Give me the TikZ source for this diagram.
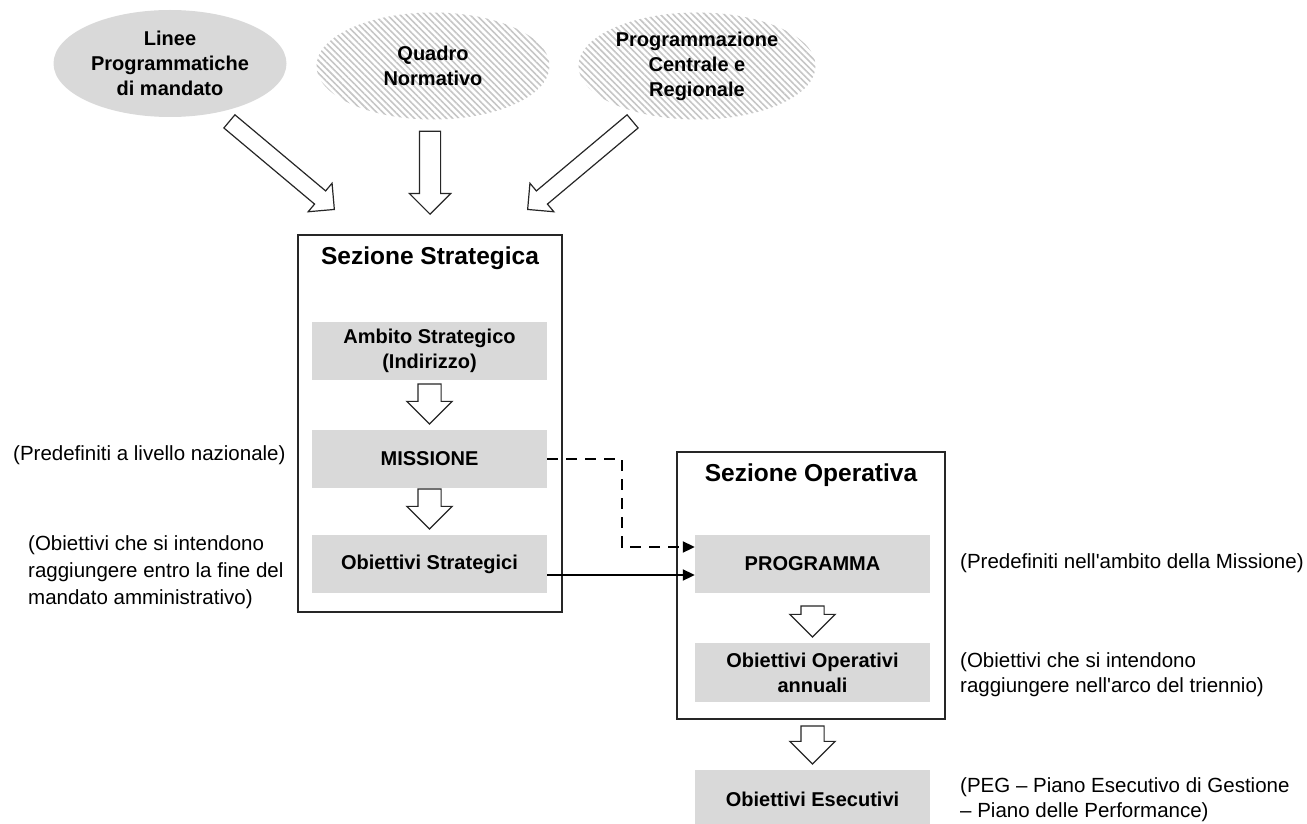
\documentclass[tikz,border=0pt]{standalone}
\usepackage{fontspec}
\setmainfont{Liberation Sans}
\usetikzlibrary{shapes.geometric,shapes.arrows,arrows.meta,patterns.meta}
\definecolor{boxgray}{HTML}{D9D9D9}
\definecolor{hatchgray}{HTML}{C6C6C6}
\newcommand{\txtsize}{\fontsize{20}{25}\selectfont}
\newcommand{\notesize}{\fontsize{20.5}{25}\selectfont}
\newcommand{\titlesize}{\fontsize{24.5}{29}\selectfont}
\begin{document}
\begin{tikzpicture}[x=1pt,y=-1pt,
  source/.style={ellipse, minimum width=233pt, minimum height=107pt, inner sep=0pt, align=center, font=\bfseries\txtsize},
  hatched/.style={source, pattern={Lines[angle=-45,distance=4.5pt,line width=1.6pt]}, pattern color=hatchgray},
  bigarrow/.style={single arrow, draw=black!85, fill=white, line width=1.2pt, single arrow head extend=10pt, inner xsep=0pt, inner ysep=10pt, minimum width=0pt},
  section/.style={draw=black!85, line width=1.3pt},
  graybox/.style={fill=boxgray, minimum width=235pt, minimum height=58pt, inner sep=0pt, align=center, font=\bfseries\txtsize},
  note/.style={align=left, anchor=west, font=\notesize, inner sep=0pt},
  link/.style={line width=2pt, -{Triangle[length=12pt,width=11pt]}}]
\useasboundingbox (0,0) rectangle (1307,824);
% sources
\node[source, fill=boxgray] (linee) at (170,63.5) {Linee\\Programmatiche\\di mandato};
\node[hatched] (quadro) at (433,66) {Quadro\\Normativo};
\node[hatched, minimum width=237pt] (progr) at (697,66) {Programmazione\\Centrale e\\Regionale};
\node[bigarrow, minimum height=137pt, rotate=-40, anchor=tip, inner ysep=8pt, single arrow head extend=10pt] (inL) at (335,210) {};
\node[bigarrow, minimum height=83pt, rotate=-90, anchor=tip] (inC) at (430,215) {};
\node[bigarrow, minimum height=137pt, rotate=-140, anchor=tip, inner ysep=8pt, single arrow head extend=10pt] (inR) at (527,210) {};
% strategic section
\node[section, minimum width=264pt, minimum height=377pt] (strat) at (430,423.5) {};
\node[font=\bfseries\titlesize] (stratT) at (430,258) {Sezione Strategica};
\node[graybox] (ambito) at (429.5,351) {Ambito Strategico\\(Indirizzo)};
\node[graybox] (missione) at (429.5,459) {MISSIONE};
\node[graybox] (obstrat) at (429.5,564) {Obiettivi Strategici};
\node[bigarrow, minimum height=40pt, rotate=-90, anchor=tip, inner ysep=11pt, single arrow head extend=11pt] (s1) at ([yshift=5pt]missione.north) {};
\node[bigarrow, minimum height=40pt, rotate=-90, anchor=tip, inner ysep=11pt, single arrow head extend=11pt] (s2) at ([yshift=5pt]obstrat.north) {};
% operative section
\node[section, minimum width=268pt, minimum height=267pt] (oper) at (811,585.5) {};
\node[font=\bfseries\titlesize] (operT) at (811,475) {Sezione Operativa};
\node[graybox] (programma) at (812.5,564) {PROGRAMMA};
\node[graybox, minimum height=59pt] (obope) at (812.5,672.5) {Obiettivi Operativi\\annuali};
\node[graybox] (obese) at (812.5,799) {Obiettivi Esecutivi};
\node[bigarrow, minimum height=31pt, rotate=-90, anchor=tip, inner ysep=11pt, single arrow head extend=11pt] (o1) at ([yshift=5pt]obope.north) {};
\node[bigarrow, minimum height=38pt, rotate=-90, anchor=tip, inner ysep=11pt, single arrow head extend=11pt] (o2) at ([yshift=5pt]obese.north) {};
% links
\coordinate (bend) at (622,547);
\draw[link, dash pattern=on 11pt off 8pt] (missione.east) -| (bend) -- (bend -| programma.west);
\draw[link] ([yshift=-11pt]obstrat.east) -- ([yshift=-11pt]obstrat.east -| programma.west);
% notes
\node[note] (nNaz) at (13,455) {(Predefiniti a livello nazionale)};
\node[note, font=\fontsize{20.5}{27}\selectfont] (nMand) at (28,572.5) {(Obiettivi che si intendono\\raggiungere entro la fine del\\mandato amministrativo)};
\node[note] (nMiss) at (960,563) {(Predefiniti nell\textquotesingle ambito della Missione)};
\node[note] (nTrien) at (960,674.5) {(Obiettivi che si intendono\\raggiungere nell\textquotesingle arco del triennio)};
\node[note] (nPeg) at (960,799.5) {(PEG \textendash{} Piano Esecutivo di Gestione\\\textendash{} Piano delle Performance)};
\end{tikzpicture}
\end{document}
